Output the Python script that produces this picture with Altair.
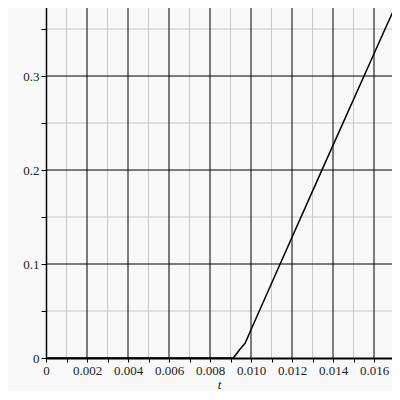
import altair as alt
import pandas as pd

# curve data
t_vals = [0.0, 0.00914, 0.00946, 0.00971, 0.0100, 0.01142, 0.01342, 0.01654, 0.01702]
y_vals = [0.0, 0.0, 0.0093, 0.0156, 0.0300, 0.100, 0.198, 0.350, 0.373]

x_major = [0.002, 0.004, 0.006, 0.008, 0.010, 0.012, 0.014, 0.016]
x_minor = [0.001, 0.003, 0.005, 0.007, 0.009, 0.011, 0.013, 0.015]
y_major = [0.1, 0.2, 0.3]
y_minor = [0.05, 0.15, 0.25, 0.35]
x_ticks = [0.0, 0.001, 0.002, 0.003, 0.004, 0.005, 0.006, 0.007, 0.008, 0.009,
           0.010, 0.011, 0.012, 0.013, 0.014, 0.015, 0.016]
y_ticks = [0.0, 0.05, 0.1, 0.15, 0.2, 0.25, 0.3, 0.35]

XDOM = [0, 0.016878]
YDOM = [0, 0.3745]

xs = alt.Scale(domain=XDOM, nice=False, zero=False)
ys = alt.Scale(domain=YDOM, nice=False, zero=False)

FONT = "Liberation Serif"

xaxis = alt.Axis(values=x_ticks, grid=False, zindex=1,
                 labelExpr="datum.value == 0 ? '0' : (round(datum.value*1000) % 2 == 0 ? format(datum.value, '.3f') : '')",
                 domainColor="#000000", domainWidth=2, tickColor="#000000", tickSize=4,
                 labelFont=FONT, labelFontSize=13, labelColor="#222222", labelPadding=2,
                 labelFlush=False, labelOverlap=False,
                 titleFont=FONT, titleFontStyle="italic", titleFontWeight="normal",
                 titleFontSize=13, titleColor="#222222", titlePadding=1)
yaxis = alt.Axis(values=y_ticks, grid=False, zindex=1,
                 labelExpr="datum.value == 0 ? '0' : (round(datum.value*100) % 10 == 0 ? format(datum.value, '.1f') : '')",
                 domainColor="#000000", domainWidth=1.5, tickColor="#000000", tickSize=5,
                 labelFont=FONT, labelFontSize=13, labelColor="#222222", labelPadding=2,
                 labelFlush=False, labelOverlap=False)

df = pd.DataFrame({"t": t_vals, "y": y_vals})

vminor = alt.Chart(pd.DataFrame({"t": x_minor})).mark_rule(color="#c8c8c8", strokeWidth=1).encode(
    x=alt.X("t:Q", scale=xs, title="t", axis=xaxis))
hminor = alt.Chart(pd.DataFrame({"y": y_minor})).mark_rule(color="#c8c8c8", strokeWidth=1).encode(
    y=alt.Y("y:Q", scale=ys, title=None, axis=yaxis))
vmajor = alt.Chart(pd.DataFrame({"t": x_major})).mark_rule(color="#000000", strokeWidth=1).encode(
    x=alt.X("t:Q", scale=xs, title="t", axis=xaxis))
hmajor = alt.Chart(pd.DataFrame({"y": y_major})).mark_rule(color="#000000", strokeWidth=1).encode(
    y=alt.Y("y:Q", scale=ys, title=None, axis=yaxis))

line = alt.Chart(df).mark_line(color="#000000", strokeWidth=1.5, clip=True).encode(
    x=alt.X("t:Q", scale=xs, title="t", axis=xaxis),
    y=alt.Y("y:Q", scale=ys, title=None, axis=yaxis),
)

chart = alt.layer(vminor, hminor, vmajor, hmajor, line).properties(
    width=346, height=352,
    autosize=alt.AutoSizeParams(type="none"),
    padding={"left": 38, "top": -2, "right": 0, "bottom": 33},
    background="#f8f8f8",
).configure_view(stroke=None)

chart.save("out.html", embed_options={"renderer": "svg", "actions": False})
